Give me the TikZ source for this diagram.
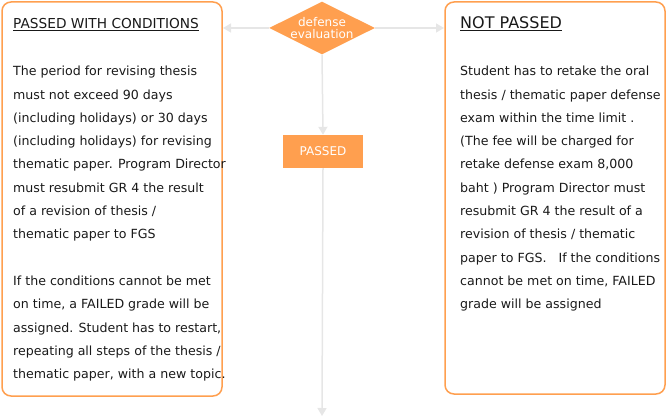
\documentclass[tikz,border=0pt]{standalone}
\usepackage{fontspec}
\setmainfont{DejaVu Sans}
\usetikzlibrary{shapes.geometric,arrows.meta}
\definecolor{org}{HTML}{FF9F4F}
\definecolor{lg}{HTML}{E6E6E6}
\begin{document}
\begin{tikzpicture}[x=1pt,y=-1pt,
  box/.style={draw=org,line width=1.5pt,rounded corners=9pt},
  body/.style={anchor=north west,inner sep=0pt,align=left,font=\fontsize{12.6}{23.3}\selectfont,text=black!90},
  conn/.style={draw=lg,line width=1.5pt,-{Triangle[width=9pt,length=8pt]}}]
\useasboundingbox (0,0) rectangle (668,419);
\draw[box] (2,2) rectangle (222,396);
\draw[box] (445,2) rectangle (665,394);
\coordinate (L) at (223,28);
\coordinate (R) at (444,28);
\coordinate (B) at (322,416);
\node[diamond,fill=org,minimum width=101pt,minimum height=51pt,inner sep=0pt,aspect=2,text=white,align=center,font=\fontsize{12}{12}\selectfont] (d) at (322,28) {defense\\evaluation};
\node[fill=org,minimum width=80pt,minimum height=33pt,inner sep=0pt,text=white,font=\fontsize{12}{13}\selectfont] (p) at (323,151.5) {PASSED};
\draw[conn] (d.west) -- (L);
\draw[conn] (d.east) -- (R);
\draw[conn] (d.south) -- (p.north);
\draw[conn] (p.south) -- (B);
\node[anchor=base west,inner sep=0pt,font=\fontsize{13.7}{14}\selectfont,text=black!90] (t1) at (13,29) {\underline{PASSED WITH CONDITIONS}};
\node[anchor=base west,inner sep=0pt,font=\fontsize{16}{18}\selectfont,text=black!90] (t2) at (460,29) {\underline{NOT PASSED}};
\node[body] (lb) at (13,66) {The period for revising thesis\\must not exceed 90 days\\(including holidays) or 30 days\\(including holidays) for revising\\thematic paper. Program Director\\must resubmit GR 4 the result\\of a revision of thesis /\\thematic paper to FGS\\[23.3pt]If the conditions cannot be met\\on time, a FAILED grade will be\\assigned. Student has to restart,\\repeating all steps of the thesis /\\thematic paper, with a new topic.};
\node[body] (rb) at (460,66) {Student has to retake the oral\\thesis / thematic paper defense\\exam within the time limit .\\(The fee will be charged for\\retake defense exam 8,000\\baht ) Program Director must\\resubmit GR 4 the result of a\\revision of thesis / thematic\\paper to FGS.\ \ \ If the conditions\\cannot be met on time, FAILED\\grade will be assigned};
\end{tikzpicture}
\end{document}
